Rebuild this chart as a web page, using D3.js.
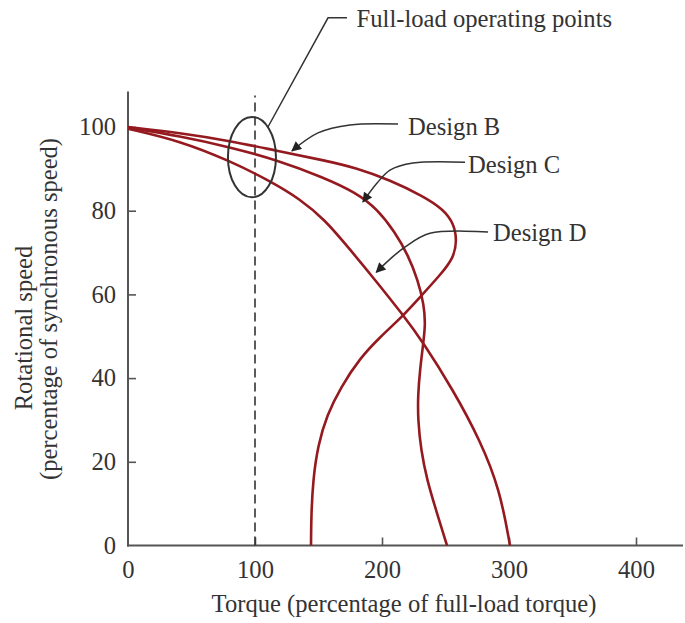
<!DOCTYPE html>
<html>
<head>
<meta charset="utf-8">
<script src="https://cdn.jsdelivr.net/npm/d3@7"></script>
<style>
  html, body { margin: 0; padding: 0; background: #ffffff; }
  svg { display: block; }
  text { font-family: "Liberation Serif", "Times New Roman", "DejaVu Serif", serif; fill: #333333; }
</style>
</head>
<body>
<svg id="chart" width="685" height="623"></svg>
<script>
// ---------------- data (torque %, speed %) ----------------
const xTicks = [0, 100, 200, 300, 400];
const yTicks = [0, 20, 40, 60, 80, 100];
const xTitle = "Torque (percentage of full-load torque)";
const yTitle1 = "Rotational speed";
const yTitle2 = "(percentage of synchronous speed)";

const designB = [
  [0, 100], [40.9, 98.6], [80.3, 96.7], [117.3, 94.3], [153.5, 92.1], [180.3, 90.2],
  [206.3, 87.3], [232.3, 83.5], [248.0, 80.4], [256.5, 77.0], [259.0, 73.0],
  [256.5, 68.7], [245.7, 64.6], [230.7, 59.6], [215.7, 54.6], [198.4, 49.8],
  [182.7, 44.8], [167.5, 37.8], [156.7, 31.2], [149.6, 24.0], [145.7, 15.7],
  [144.3, 7.3], [144.1, 0]
];
const designC = [
  [0, 99.9], [40.9, 97.8], [80.3, 95.2], [117.3, 92.1], [153.5, 88.0], [180.3, 84.2],
  [196.1, 80.4], [210.2, 74.9], [220.5, 69.4], [228.3, 63.4], [233.1, 57.5],
  [234.2, 52.7], [232.3, 47.9], [229.9, 41.9], [228.3, 36.0], [228.3, 30.0],
  [230.7, 22.8], [235.4, 15.7], [242.5, 8.5], [251.2, 0]
];
const designD = [
  [0, 99.6], [40.9, 96.7], [80.3, 91.9], [111.8, 87.1], [135.4, 82.8], [155.1, 77.8],
  [172.4, 71.6], [194.5, 63.5], [216.5, 55.1], [232.3, 48.6], [255.9, 37.2],
  [277.2, 25.2], [292.9, 13.3], [300.8, 0]
];
const seriesNames = ["Design B", "Design C", "Design D"];

// annotations (data units)
const fullLoadTorque = 100;
const ellipseCenter = [97.6, 92.8];
const ellipseRadii = [18.9, 9.6];
const fullLoadLeader = [[110.2, 100.0], [157.5, 126.1], [172.4, 126.1]];
const fullLoadLabel = { text: "Full-load operating points", at: [180.0, 123.9] };
const leaderB = [[212.6, 100.7], [174.8, 100.5], [149.6, 98.6], [129.1, 94.3]];
const leaderC = [[265.4, 91.6], [224.4, 91.4], [206.3, 89.7], [196.1, 86.6], [185.0, 82.1]];
const leaderD = [[283.5, 74.9], [237.8, 74.6], [218.0, 71.3], [205.5, 68.2], [195.5, 65.3]];
const labelPos = [[220.5, 98.2], [267.7, 89.0], [287.4, 72.7]];

// ---------------- chart ----------------
const svg = d3.select("#chart");
const x = d3.scaleLinear().domain([0, 400]).range([128, 636]);
const y = d3.scaleLinear().domain([0, 100]).range([545.5, 127]);
const axisColor = "#555555";
const curveColor = "#951a20";
const inkColor = "#333333";
const fontSize = 24.6;

// axis lines
svg.append("line").attr("x1", x(0)).attr("x2", x(0)).attr("y1", y(0) + 1).attr("y2", y(108.5))
  .attr("stroke", axisColor).attr("stroke-width", 2);
svg.append("line").attr("x1", x(0) - 1).attr("x2", x(437)).attr("y1", y(0)).attr("y2", y(0))
  .attr("stroke", axisColor).attr("stroke-width", 2);

// x axis
const gx = svg.append("g").attr("transform", `translate(0,${y(0)})`)
  .call(d3.axisBottom(x).tickValues(xTicks).tickSizeInner(-8).tickSizeOuter(0).tickPadding(15));
gx.select(".domain").remove();
gx.selectAll(".tick line").attr("stroke", axisColor).attr("stroke-width", 1.6)
  .filter(d => d === 0).remove();
gx.selectAll(".tick text").attr("font-size", fontSize).attr("fill", inkColor)
  .attr("font-family", "'Liberation Serif', 'Times New Roman', serif");

// y axis
const gy = svg.append("g").attr("transform", `translate(${x(0)},0)`)
  .call(d3.axisLeft(y).tickValues(yTicks).tickSizeInner(-8).tickSizeOuter(0).tickPadding(12));
gy.select(".domain").remove();
gy.selectAll(".tick line").attr("stroke", axisColor).attr("stroke-width", 1.6)
  .filter(d => d === 0).remove();
gy.selectAll(".tick text").attr("font-size", fontSize).attr("fill", inkColor)
  .attr("font-family", "'Liberation Serif', 'Times New Roman', serif");

// axis titles
svg.append("text").attr("x", 404).attr("y", 612).attr("text-anchor", "middle")
  .attr("font-size", fontSize).text(xTitle);
svg.append("text").attr("transform", "translate(32,328) rotate(-90)").attr("text-anchor", "middle")
  .attr("font-size", fontSize).text(yTitle1);
svg.append("text").attr("transform", "translate(57,309) rotate(-90)").attr("text-anchor", "middle")
  .attr("font-size", fontSize).text(yTitle2);

// dashed full-load line
svg.append("line").attr("x1", x(fullLoadTorque)).attr("x2", x(fullLoadTorque))
  .attr("y1", y(0)).attr("y2", y(107.5))
  .attr("stroke", inkColor).attr("stroke-width", 1.6).attr("stroke-dasharray", "9,5");

// curves
const line = d3.line().x(d => x(d[0])).y(d => y(d[1])).curve(d3.curveBasis);
[designB, designC, designD].forEach((s, i) => {
  svg.append("path").datum(s).attr("d", line).attr("fill", "none")
    .attr("stroke", curveColor).attr("stroke-width", 2.6).attr("class", "series-" + i);
});

// ellipse
svg.append("ellipse")
  .attr("cx", x(ellipseCenter[0])).attr("cy", y(ellipseCenter[1]))
  .attr("rx", x(ellipseRadii[0]) - x(0)).attr("ry", y(0) - y(ellipseRadii[1]))
  .attr("fill", "none").attr("stroke", inkColor).attr("stroke-width", 2);

// full-load leader + label
svg.append("path").datum(fullLoadLeader).attr("d", d3.line().x(d => x(d[0])).y(d => y(d[1])))
  .attr("fill", "none").attr("stroke", inkColor).attr("stroke-width", 1.5);
svg.append("text").attr("x", x(fullLoadLabel.at[0])).attr("y", y(fullLoadLabel.at[1]))
  .attr("font-size", fontSize).text(fullLoadLabel.text);

// arrow marker
svg.append("defs").append("marker").attr("id", "arrow")
  .attr("viewBox", "0 0 10 10").attr("refX", 9).attr("refY", 5)
  .attr("markerWidth", 16).attr("markerHeight", 10).attr("markerUnits", "userSpaceOnUse")
  .attr("orient", "auto")
  .append("path").attr("d", "M0,0 L10,5 L0,10 Z").attr("fill", "#222");

const leaderLine = d3.line().x(d => x(d[0])).y(d => y(d[1])).curve(d3.curveCatmullRom.alpha(0.5));
[leaderB, leaderC, leaderD].forEach((l, i) => {
  svg.append("path").datum(l).attr("d", leaderLine).attr("fill", "none")
    .attr("stroke", inkColor).attr("stroke-width", 1.5).attr("marker-end", "url(#arrow)");
  svg.append("text").attr("x", x(labelPos[i][0])).attr("y", y(labelPos[i][1]))
    .attr("font-size", fontSize).text(seriesNames[i]);
});
</script>
</body>
</html>
